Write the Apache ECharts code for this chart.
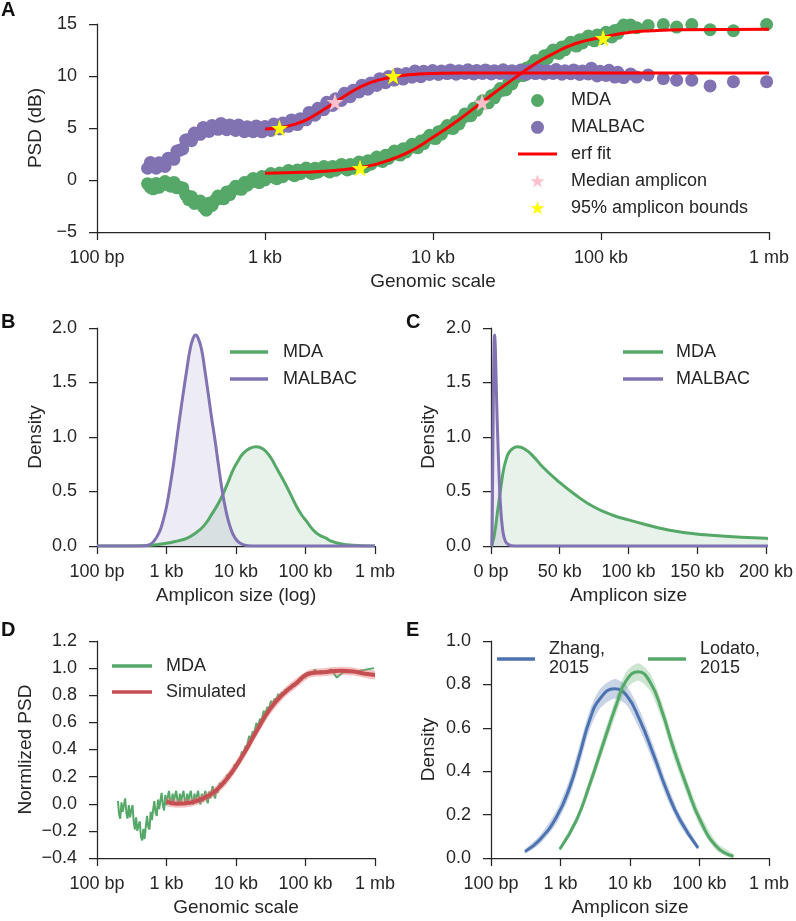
<!DOCTYPE html>
<html><head><meta charset="utf-8">
<script src="https://cdn.jsdelivr.net/npm/echarts@6/dist/echarts.min.js"></script>
<style>html,body{margin:0;padding:0;background:#fff}#c{width:796px;height:921px}</style>
</head><body><div id="c"></div>
<script>
// ---------------- DATA ----------------
const logTickLabels = ['100 bp', '1 kb', '10 kb', '100 kb', '1 mb'];
const linTickLabels = ['0 bp', '50 kb', '100 kb', '150 kb', '200 kb'];

// Panels A & D: genomic scale (bp) grid
const psdScaleBp = [200,208,216,225,234,244,254,265,275,287,
  299,311,324,337,351,365,380,396,412,429,
  447,465,484,504,525,547,569,592,617,642,
  668,696,724,754,785,817,851,886,923,960,
  1000,1041,1084,1128,1175,1223,1274,1326,1380,1437,
  1496,1558,1622,1689,1758,1830,1905,1984,2065,2150,
  2239,2331,2427,2527,2630,2739,2851,2968,3090,3217,
  3350,3488,3631,3780,3936,4098,4266,4442,4624,4815,
  5012,5219,5433,5656,5888,6131,6383,6645,6918,7203,
  7499,7807,8128,8463,8810,9173,9550,9943,10351,10777,
  11220,11682,12162,12662,13183,13725,14289,14877,15488,16125,
  16788,17479,18197,18946,19724,20535,21380,22259,23174,24127,
  25119,26152,27227,28347,29512,30726,31989,33304,34674,36099,
  37584,39129,40738,42413,44157,45973,47863,49831,51880,54013,
  56234,58546,60954,63460,66069,68785,71614,74559,77625,80816,
  84140,87600,91201,94951,98855,102920,107152,111558,116145,120921,
  125893,131070,136458,
  150000,163000,191000,235000,282000,347000,446000,614000,968000];
// Panel A: PSD (dB)
const psdMda = [-0.35,-0.7,-0.85,-0.33,-0.7,-0.38,-0.15,-0.48,-0.6,-0.23,
  -0.75,-0.7,-0.76,-1.42,-1.88,-1.62,-2.25,-2.09,-2.03,-2.57,
  -2.9,-2.23,-2.45,-1.95,-1.55,-1.78,-1.8,-1.15,-1.4,-0.95,
  -0.6,-0.85,-0.9,-0.25,-0.5,-0.13,0.15,-0.15,-0.25,0.33,
  0.0,0.36,0.62,0.27,0.12,0.67,0.32,0.67,0.92,0.57,
  0.42,0.96,0.6,0.93,1.15,0.78,0.6,1.13,0.75,1.08,
  1.3,0.94,0.78,1.31,0.93,1.27,1.5,1.13,0.96,1.5,
  1.13,1.48,1.72,1.39,1.25,1.84,1.52,1.91,2.2,1.89,
  1.78,2.38,2.07,2.48,2.78,2.49,2.4,3.0,2.7,3.12,
  3.43,3.17,3.1,3.75,3.5,3.95,4.3,4.04,3.98,4.64,
  4.4,4.87,5.23,4.99,4.95,5.63,5.4,5.93,6.35,6.17,
  6.18,6.89,6.7,7.21,7.62,7.42,7.42,8.11,7.9,8.4,
  8.8,8.64,8.68,9.42,9.25,9.79,10.22,10.04,10.05,10.78,
  10.6,11.1,11.5,11.29,11.28,11.94,11.7,12.15,12.5,12.24,
  12.17,12.8,12.52,12.94,13.25,12.97,12.88,13.48,13.18,13.57,
  13.85,13.52,13.38,13.94,13.6,13.95,14.2,13.88,13.75,14.38,
  14.1,14.55,14.9,
  14.9,14.65,14.85,14.95,14.7,14.95,14.45,14.35,14.95];
const psdMalbac = [1.13,1.69,1.45,1.13,1.65,1.45,1.3,2.08,2.05,1.99,
  2.78,2.86,2.99,3.84,3.89,3.78,4.52,4.43,4.39,5.06,
  4.93,4.67,5.25,5.04,4.87,5.44,5.21,4.83,5.3,5.01,
  4.77,5.29,5.01,4.65,5.13,4.87,4.65,5.2,4.95,4.63,
  5.15,4.94,4.77,5.38,5.19,4.91,5.48,5.3,5.16,5.78,
  5.6,5.33,5.9,5.82,5.79,6.5,6.41,6.23,6.89,6.8,
  6.76,7.47,7.38,7.17,7.81,7.71,7.65,8.34,8.22,8.01,
  8.64,8.53,8.46,9.12,8.98,8.73,9.33,9.19,9.09,9.74,
  9.59,9.35,9.95,9.76,9.61,10.2,10.0,9.7,10.24,10.04,
  9.88,10.47,10.25,9.93,10.45,10.23,10.15,10.52,10.38,10.15,
  10.47,10.32,10.23,10.58,10.41,10.18,10.5,10.35,10.25,10.6,
  10.4,10.2,10.52,10.36,10.24,10.58,10.42,10.19,10.5,10.35,
  10.25,10.6,10.41,10.2,10.5,10.36,10.24,10.58,10.4,10.18,
  10.52,10.35,10.23,10.6,10.42,10.2,10.5,10.34,10.25,10.62,
  10.4,10.18,10.5,10.35,10.22,10.58,10.4,10.15,10.48,10.3,
  10.2,10.75,10.35,10.0,10.45,10.2,10.05,10.55,10.3,9.9,
  10.35,10.0,9.85,
  10.2,9.9,10.1,9.75,9.6,9.6,9.05,9.45,9.45];
const fitMdaBp = [1000,1500,2000,3000,4000,5000,7000,10000,14000,20000,30000,40000,50000,70000,100000,150000,200000,300000,1000000];
const fitMdaVal = [0.65,0.72,0.8,1.0,1.3,1.7,2.6,4.1,5.7,7.6,9.7,11.1,12.0,13.1,13.7,14.2,14.35,14.45,14.5];
const fitMalbacBp = [1000,1250,1500,1800,2200,2600,3000,3500,4000,4500,5000,6000,7000,8000,10000,15000,30000,100000,1000000];
const fitMalbacVal = [4.9,5.05,5.35,5.85,6.7,7.45,8.1,8.75,9.2,9.5,9.7,9.97,10.1,10.18,10.25,10.3,10.3,10.3,10.3];
const medianBp = [2610, 19600];
const medianVal = [7.5, 7.45];
const boundsBp = [1220, 5800, 3680, 103000];
const boundsVal = [5.0, 10.0, 1.15, 13.65];

// Panels B & C: amplicon size densities
const mdaSizeBp = [100,316,631,1000,1410,1950,2570,3390,4470,5890,7410,9120,10700,12700,15800,19400,24500,30900,38000,47900,
  60300,74600,89100,100000,129000,158000,200000,224000,316000,437000,631000,1000000];
const mdaDensity = [0,0,0.008,0.025,0.045,0.07,0.115,0.18,0.29,0.42,0.56,0.70,0.78,0.85,0.895,0.91,0.89,0.82,0.72,0.605,
  0.48,0.36,0.28,0.24,0.147,0.10,0.07,0.05,0.02,0.01,0.002,0];
const malbacSizeBp = [100,400,500,560,650,780,900,1000,1120,1260,1400,1560,1740,1950,2180,2400,2630,2880,3200,3550,
  3980,4470,4990,5570,6220,7080,8200,9550,11500,15000,20000,1000000];
const malbacDensity = [0,0,0.003,0.01,0.04,0.12,0.24,0.36,0.54,0.75,0.97,1.19,1.40,1.61,1.80,1.90,1.935,1.90,1.80,1.62,
  1.40,1.17,0.97,0.75,0.54,0.34,0.18,0.08,0.025,0.003,0,0];

// Panel D: normalized PSD on the same genomic scale grid
const mdaNorm = [0.02,-0.08,-0.11,0.01,-0.06,-0.01,0.04,-0.07,-0.11,-0.01,
  -0.10,-0.05,-0.01,-0.13,-0.19,-0.10,-0.20,-0.16,-0.13,-0.245,
  -0.27,-0.185,-0.26,-0.17,-0.09,-0.17,-0.19,-0.06,-0.12,-0.045,
  0.02,-0.065,-0.09,0.03,-0.04,0.025,0.08,-0.015,-0.05,0.065,
  -0.01,0.05,0.095,0.025,-0.005,0.075,0.015,0.06,0.095,0.025,
  -0.005,0.075,0.015,0.06,0.095,0.025,-0.005,0.075,0.015,0.06,
  0.095,0.025,-0.005,0.075,0.015,0.06,0.095,0.025,-0.005,0.075,
  0.015,0.06,0.095,0.03,0.005,0.09,0.04,0.09,0.13,0.065,
  0.04,0.11,0.08,0.12,0.155,0.12,0.115,0.173,0.147,0.184,
  0.215,0.185,0.18,0.24,0.217,0.256,0.29,0.263,0.26,0.323,
  0.302,0.347,0.385,0.36,0.36,0.428,0.412,0.459,0.50,0.473,
  0.47,0.535,0.517,0.559,0.595,0.568,0.565,0.628,0.607,0.649,
  0.685,0.658,0.655,0.715,0.692,0.729,0.76,0.728,0.72,0.778,
  0.752,0.786,0.81,0.79,0.785,0.822,0.803,0.826,0.845,0.825,
  0.82,0.86,0.843,0.866,0.885,0.865,0.86,0.90,0.883,0.909,
  0.93,0.91,0.905,0.945,0.928,0.951,0.97,0.947,0.94,0.975,
  0.953,0.974,0.99,
  0.96,0.98,0.97,0.99,0.93,0.97,0.97,0.98,1.0];
const simBp = [1000,1400,2200,3400,5200,8100,12600,20000,31000,48000,74000,115000,180000,316000,490000,680000,1000000];
const simNorm = [0.015,0.0,0.008,0.04,0.10,0.21,0.36,0.54,0.70,0.81,0.89,0.96,0.97,0.98,0.975,0.96,0.95];
const simErr = [0.03,0.03,0.03,0.03,0.035,0.04,0.04,0.04,0.04,0.035,0.035,0.03,0.03,0.03,0.03,0.03,0.03];

// Panel E: amplicon size densities from two studies
const zhangBp = [309,500,880,1370,1900,2630,3720,6000,8900,13800,21600,33900,52500,95500];
const zhangDensity = [0.03,0.083,0.19,0.33,0.48,0.636,0.735,0.78,0.75,0.636,0.48,0.31,0.175,0.047];
const zhangErr = [0.01,0.02,0.03,0.04,0.045,0.045,0.045,0.045,0.045,0.045,0.04,0.035,0.025,0.01];
const lodatoBp = [977,1700,2660,4130,6460,8900,13200,19500,28600,41700,65500,102000,177000,307000];
const lodatoDensity = [0.041,0.175,0.343,0.528,0.712,0.82,0.858,0.81,0.68,0.51,0.33,0.175,0.052,0.008];
const lodatoErr = [0.01,0.02,0.03,0.035,0.04,0.04,0.04,0.04,0.04,0.04,0.035,0.03,0.02,0.01];

// ---------------- STYLE ----------------
const FONT = "'Liberation Sans', Arial, sans-serif";
const INK = '#262626';
const GREEN = '#55A868', PURPLE = '#8172B2', BLUE = '#4C72B0', SIMRED = '#C44E52';
const STAR = 'path://M50,2 L61.8,36.2 L97.6,36.2 L68.7,57.3 L79.4,91.5 L50,70.5 L20.6,91.5 L31.3,57.3 L2.4,36.2 L38.2,36.2 Z';
const linePath = (w, h) => 'path://M0,0H' + w + 'V' + h + 'H0Z';

const pairs = (xs, ys) => xs.map((x, i) => [x, ys[i]]);
const minus = s => String(s).replace('-', '\u2212');
const fix1 = v => minus((Math.abs(v) < 1e-9 ? 0 : v).toFixed(1));
const logLabel = v => { const e = Math.round(Math.log10(v)); return logTickLabels[e - 2] || ''; };
const linLabel = v => linTickLabels[Math.round(v / 50000)] || '';
const strip = n => n.split(':')[1];

const axisLine = {onZero: false, lineStyle: {color: INK, width: 1.25}};
const axisTick = {inside: false, length: 8, lineStyle: {color: INK, width: 1.25}};
const nameStyle = {fontSize: 19, color: INK, fontFamily: FONT};
const labelBase = {fontSize: 18, color: INK, fontFamily: FONT, showMinLabel: true, showMaxLabel: true};

function xLog(gi, name) {
  return {type: 'log', logBase: 10, min: 100, max: 1000000, gridIndex: gi, name, nameLocation: 'middle', nameGap: 40,
    nameTextStyle: nameStyle, axisLine, axisTick, splitLine: {show: false}, minorTick: {show: false},
    axisLabel: Object.assign({formatter: logLabel, margin: 17}, labelBase)};
}
function xLin(gi, name) {
  return {type: 'value', min: 0, max: 200000, interval: 50000, gridIndex: gi, name, nameLocation: 'middle', nameGap: 40,
    nameTextStyle: nameStyle, axisLine, axisTick, splitLine: {show: false},
    axisLabel: Object.assign({formatter: linLabel, margin: 17}, labelBase)};
}
function yVal(gi, min, max, interval, name, gap, fmt) {
  return {type: 'value', min, max, interval, gridIndex: gi, name, nameLocation: 'middle', nameGap: gap,
    nameTextStyle: nameStyle, axisLine, axisTick, splitLine: {show: false},
    axisLabel: Object.assign({formatter: fmt, margin: 20}, labelBase)};
}
function lineSeries(name, ax, xs, ys, color, width, extra) {
  return Object.assign({type: 'line', name, xAxisIndex: ax, yAxisIndex: ax, data: pairs(xs, ys), symbol: 'none',
    smooth: true, lineStyle: {color, width}, itemStyle: {color}, silent: true}, extra || {});
}
function bandSeries(ax, xs, ys, errs, fill, z) {
  return {type: 'custom', xAxisIndex: ax, yAxisIndex: ax, silent: true, z, clip: true, data: [[xs[0], ys[0]]],
    renderItem: (params, api) => {
      const up = xs.map((x, i) => api.coord([x, ys[i] + errs[i]]));
      const lo = xs.map((x, i) => api.coord([x, ys[i] - errs[i]])).reverse();
      return {type: 'polygon', shape: {points: up.concat(lo), smooth: 0.25}, style: {fill}};
    }};
}
function legendBox(left, top, data, itemWidth, itemHeight, itemGap, padLeft, orient, lineHeight) {
  return {orient: orient || 'vertical', left, top, padding: 0, itemGap, itemWidth, itemHeight, data,
    formatter: strip, selectedMode: false,
    textStyle: {fontSize: 18, color: INK, fontFamily: FONT, lineHeight: lineHeight || 18, padding: [0, 0, 0, padLeft]}};
}
const lineItems = (names, w) => names.map(n => ({name: n, icon: linePath(w, 3.5)}));

const chart = echarts.init(document.getElementById('c'), null, {renderer: 'canvas', width: 796, height: 921});

const option = {
  animation: false,
  backgroundColor: '#ffffff',
  textStyle: {fontFamily: FONT, color: INK},
  grid: [
    {left: 97, top: 24, width: 672, height: 208},
    {left: 97, top: 328, width: 278, height: 218},
    {left: 491, top: 328, width: 278, height: 218},
    {left: 97, top: 641, width: 278, height: 217},
    {left: 491, top: 641, width: 278, height: 217}
  ],
  xAxis: [xLog(0, 'Genomic scale'), xLog(1, 'Amplicon size (log)'), xLin(2, 'Amplicon size'),
          xLog(3, 'Genomic scale'), xLog(4, 'Amplicon size')],
  yAxis: [yVal(0, -5, 15, 5, 'PSD (dB)', 41, v => minus(v)),
          yVal(1, 0, 2, 0.5, 'Density', 52, fix1),
          yVal(2, 0, 2, 0.5, 'Density', 53, fix1),
          yVal(3, -0.4, 1.2, 0.2, 'Normlized PSD', 62, fix1),
          yVal(4, 0, 1, 0.2, 'Density', 53, fix1)],
  legend: [
    legendBox(518, 91.5, [
      {name: 'A:MDA', icon: 'circle'},
      {name: 'A:MALBAC', icon: 'circle'},
      {name: 'A:erf fit', icon: linePath(39, 3)},
      {name: 'A:Median amplicon', icon: STAR},
      {name: 'A:95% amplicon bounds', icon: STAR}], 39, 13, 8.8, 9),
    legendBox(230, 343, lineItems(['B:MDA', 'B:MALBAC'], 38), 38, 14, 9, 10),
    legendBox(623, 343, lineItems(['C:MDA', 'C:MALBAC'], 40), 40, 14, 9, 8),
    legendBox(112, 657, lineItems(['D:MDA', 'D:Simulated'], 40), 40, 14, 8, 9),
    legendBox(497, 640, lineItems(['E:Zhang,\n2015', 'E:Lodato,\n2015'], 38), 38, 14, 43, 9, 'horizontal', 19)
  ],
  series: [
    // A
    {type: 'scatter', name: 'A:MDA', xAxisIndex: 0, yAxisIndex: 0, data: pairs(psdScaleBp, psdMda), symbolSize: 13,
      itemStyle: {color: GREEN, opacity: 1}, z: 2, silent: true},
    {type: 'scatter', name: 'A:MALBAC', xAxisIndex: 0, yAxisIndex: 0, data: pairs(psdScaleBp, psdMalbac), symbolSize: 13,
      itemStyle: {color: PURPLE, opacity: 1}, z: 3, silent: true},
    lineSeries('A:erf fit', 0, fitMdaBp, fitMdaVal, '#ff0000', 3, {z: 4}),
    lineSeries('A:erf fit', 0, fitMalbacBp, fitMalbacVal, '#ff0000', 3, {z: 4}),
    {type: 'scatter', name: 'A:Median amplicon', xAxisIndex: 0, yAxisIndex: 0, data: pairs(medianBp, medianVal),
      symbol: STAR, symbolSize: 17, itemStyle: {color: '#FFC0CB', opacity: 1}, z: 5, silent: true},
    {type: 'scatter', name: 'A:95% amplicon bounds', xAxisIndex: 0, yAxisIndex: 0, data: pairs(boundsBp, boundsVal),
      symbol: STAR, symbolSize: 17, itemStyle: {color: '#FFFF00', opacity: 1}, z: 5, silent: true},
    // B
    lineSeries('B:MDA', 1, mdaSizeBp, mdaDensity, GREEN, 3, {areaStyle: {color: 'rgba(85,168,104,0.2)'}}),
    lineSeries('B:MALBAC', 1, malbacSizeBp, malbacDensity, PURPLE, 3, {areaStyle: {color: 'rgba(129,114,178,0.2)'}}),
    // C
    lineSeries('C:MDA', 2, mdaSizeBp, mdaDensity, GREEN, 3, {areaStyle: {color: 'rgba(85,168,104,0.2)'}}),
    lineSeries('C:MALBAC', 2, malbacSizeBp, malbacDensity, PURPLE, 3, {areaStyle: {color: 'rgba(129,114,178,0.2)'}}),
    // D
    lineSeries('D:MDA', 3, psdScaleBp, mdaNorm, GREEN, 2, {smooth: false, z: 2}),
    bandSeries(3, simBp, simNorm, simErr, 'rgba(235,120,125,0.45)', 3),
    lineSeries('D:Simulated', 3, simBp, simNorm, SIMRED, 4, {z: 4}),
    // E
    bandSeries(4, zhangBp, zhangDensity, zhangErr, 'rgba(76,114,176,0.3)', 2),
    lineSeries('E:Zhang,\n2015', 4, zhangBp, zhangDensity, BLUE, 3, {z: 3}),
    bandSeries(4, lodatoBp, lodatoDensity, lodatoErr, 'rgba(85,168,104,0.3)', 4),
    lineSeries('E:Lodato,\n2015', 4, lodatoBp, lodatoDensity, GREEN, 3, {z: 5})
  ],
  graphic: [
    {type: 'text', left: 1, top: 0, style: {text: 'A', fontSize: 20, fontWeight: 'bold', fontFamily: FONT, fill: '#111'}},
    {type: 'text', left: 1, top: 312, style: {text: 'B', fontSize: 20, fontWeight: 'bold', fontFamily: FONT, fill: '#111'}},
    {type: 'text', left: 406, top: 312, style: {text: 'C', fontSize: 20, fontWeight: 'bold', fontFamily: FONT, fill: '#111'}},
    {type: 'text', left: 1, top: 620, style: {text: 'D', fontSize: 20, fontWeight: 'bold', fontFamily: FONT, fill: '#111'}},
    {type: 'text', left: 406, top: 620, style: {text: 'E', fontSize: 20, fontWeight: 'bold', fontFamily: FONT, fill: '#111'}}
  ]
};
chart.setOption(option);
</script></body></html>
